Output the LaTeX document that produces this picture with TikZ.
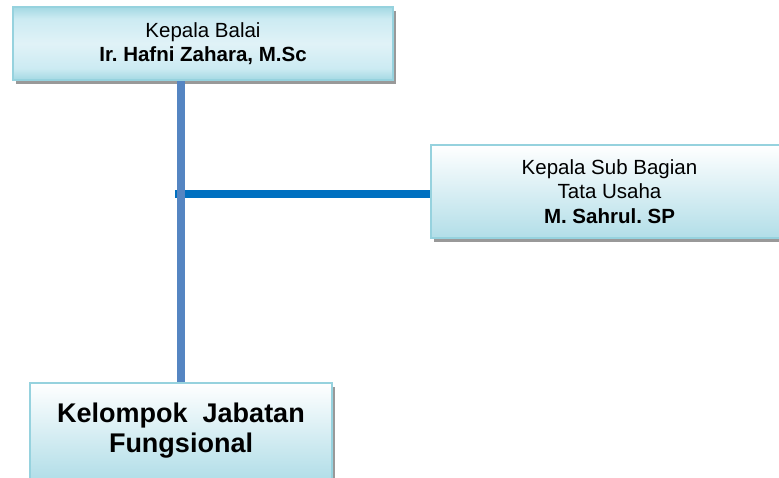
\documentclass[tikz,border=0pt]{standalone}
\usepackage{fontspec}
\setmainfont{Liberation Sans}
\frenchspacing
\usetikzlibrary{shadows}
\definecolor{boxedge}{HTML}{96D2DE}
\definecolor{boxbot}{HTML}{B2DEE8}
\definecolor{vcol}{HTML}{5585C2}
\definecolor{hcol}{HTML}{0070C0}
\pgfdeclareverticalshading{headshade}{100bp}{%
  rgb(0bp)=(0.64,0.85,0.89);
  rgb(25bp)=(0.64,0.85,0.89);
  rgb(33bp)=(0.80,0.92,0.95);
  rgb(50bp)=(0.88,0.95,0.97);
  rgb(67bp)=(0.80,0.92,0.95);
  rgb(75bp)=(0.64,0.85,0.89);
  rgb(100bp)=(0.64,0.85,0.89)}
\tikzset{
  orgbox/.style={draw=boxedge, line width=2pt, rectangle, align=center, inner sep=0pt,
    font=\fontsize{20.5}{24.5}\selectfont,
    drop shadow={shadow xshift=3pt, shadow yshift=-4pt, fill=black!40, opacity=1}},
  headbox/.style={orgbox, shading=headshade},
  subbox/.style={orgbox, top color=white, bottom color=boxbot},
  vline/.style={draw=vcol, line width=8pt},
  hline/.style={draw=hcol, line width=8pt}
}
\begin{document}
\begin{tikzpicture}[x=1pt,y=-1pt]
\useasboundingbox (0,0) rectangle (779,477);
\clip (0,0) rectangle (779,477);
\node[headbox, minimum width=380pt, minimum height=73pt] (head) at (203,43.5)
  {Kepala Balai\\\textbf{Ir. Hafni Zahara, M.Sc}};
\node[subbox, minimum width=357pt, minimum height=93pt] (sub) at (609.5,191.5)
  {Kepala Sub Bagian\\Tata Usaha\\\textbf{M. Sahrul. SP}};
\node[subbox, minimum width=302pt, minimum height=96pt,
  font=\fontsize{27}{30}\selectfont\bfseries] (kjf) at (181,431)
  {Kelompok\ \ Jabatan\\Fungsional};
\coordinate (junc) at (181,194);
\coordinate (hstart) at (175,194);
\draw[hline] (hstart) -- (sub.west |- junc);
\draw[vline] (head.south -| junc) -- (kjf.north -| junc);
\end{tikzpicture}
\end{document}
